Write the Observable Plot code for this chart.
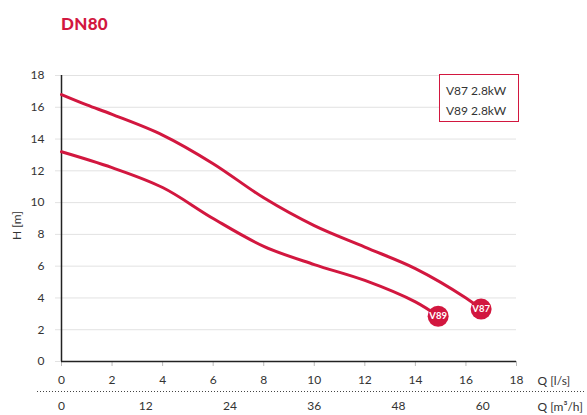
<!DOCTYPE html>
<html>
<head>
<meta charset="utf-8">
<script src="https://cdn.jsdelivr.net/npm/d3@7"></script>
<script src="https://cdn.jsdelivr.net/npm/@observablehq/plot@0.6"></script>
<style>
  body { margin: 0; background: #fff; font-family: Lato, "Open Sans", sans-serif; }
  #wrap { position: relative; width: 587px; height: 415px; }
  #title { position: absolute; left: 61px; top: 13px; font-size: 17px; font-weight: 900; color: #d2173f; letter-spacing: 0.3px; }
  #chart { position: absolute; left: 0; top: 45px; }
  #legend { position: absolute; left: 439px; top: 74px; width: 80px; height: 48px; box-sizing: border-box;
            border: 1.5px solid #d2173f; font-size: 12px; color: #333; padding: 6px 0 0 6px; line-height: 20px; background: #fff; }
</style>
</head>
<body>
<div id="wrap">
  <div id="title">DN80</div>
  <div id="chart"></div>
  <div id="legend"></div>
</div>
<script>
const RED = "#d2173f";
const legendLabels = ["V87 2.8kW", "V89 2.8kW"];
const v87Q = [0, 1, 2, 4, 6, 8, 10, 12, 14, 16, 16.6];
const v87H = [16.8, 16.15, 15.55, 14.25, 12.45, 10.3, 8.55, 7.2, 5.85, 4.0, 3.3];
const v89Q = [0, 2, 4, 6, 8, 10, 12, 14, 14.9];
const v89H = [13.2, 12.2, 10.95, 9.0, 7.25, 6.1, 5.1, 3.75, 2.85];
const xTicks = [0, 2, 4, 6, 8, 10, 12, 14, 16, 18];
const yTicks = [0, 2, 4, 6, 8, 10, 12, 14, 16, 18];
const m3hTicks = [0, 12, 24, 36, 48, 60];

const series = [
  {name: "V87", q: v87Q, h: v87H},
  {name: "V89", q: v89Q, h: v89H}
];
const rows = series.flatMap(s => s.q.map((q, i) => ({name: s.name, q, h: s.h[i]})));
const ends = series.map(s => ({name: s.name, q: s.q[s.q.length - 1], h: s.h[s.h.length - 1]}));

document.getElementById("legend").innerHTML = legendLabels.map(l => `<div>${l}</div>`).join("");

const chart = Plot.plot({
  width: 587,
  height: 370,
  marginLeft: 61,
  marginRight: 71,
  marginTop: 30,
  marginBottom: 54,
  style: {fontFamily: "Lato, 'Open Sans', sans-serif", fontSize: "12px", color: "#333", background: "#fff"},
  x: {domain: [0, 18]},
  y: {domain: [0, 18]},
  marks: [
    Plot.gridY(yTicks, {stroke: "#e2e2e2", strokeOpacity: 1}),
    Plot.axisY(yTicks, {tickSize: 6, tickPadding: 11, stroke: "#e2e2e2", strokeOpacity: 1, fill: "#333", label: null}),
    Plot.axisX(xTicks, {anchor: "bottom", tickSize: 5, tickPadding: 9, stroke: "#bbb", fill: "#333", label: null}),
    Plot.axisX(m3hTicks.map(v => v / 3.6), {anchor: "bottom", tickSize: 0, tickPadding: 40, fill: "#333", label: null,
      tickFormat: d => String(Math.round(d * 3.6))}),
    Plot.ruleX([0], {stroke: "#222", strokeWidth: 1.5}),
    Plot.ruleY([0], {stroke: "#222", strokeWidth: 1.5}),
    Plot.line(rows, {x: "q", y: "h", z: "name", stroke: RED, strokeWidth: 3, curve: "catmull-rom"}),
    Plot.dot(ends, {x: "q", y: "h", r: 10.5, fill: RED, stroke: "none"}),
    Plot.text(ends, {x: "q", y: "h", text: "name", fill: "#fff", fontWeight: "bold", fontSize: 9.5}),
    Plot.text(["Q [l/s]"], {frameAnchor: "bottom-right", dx: 21, dy: 20, textAnchor: "start", lineAnchor: "middle", fill: "#333", fontSize: 12}),
    Plot.text(["Q [m³/h]"], {frameAnchor: "bottom-right", dx: 21, dy: 46, textAnchor: "start", lineAnchor: "middle", fill: "#333", fontSize: 12}),
    Plot.text(["H [m]"], {frameAnchor: "left", textAnchor: "middle", lineAnchor: "middle", rotate: -90, fill: "#333", fontSize: 12})
  ]
});
document.getElementById("chart").appendChild(chart);

// position the rotated y label as in the reference
d3.select(chart).selectAll("text").filter(function() { return this.textContent === "H [m]"; })
  .attr("transform", "translate(17,180) rotate(-90)");

// dotted separator between the two horizontal axes
const svg = d3.select(chart);
svg.append("line")
  .attr("x1", 37).attr("x2", 585)
  .attr("y1", 346.5).attr("y2", 346.5)
  .attr("stroke", "#444").attr("stroke-width", 1).attr("stroke-dasharray", "1,2");
</script>
</body>
</html>
